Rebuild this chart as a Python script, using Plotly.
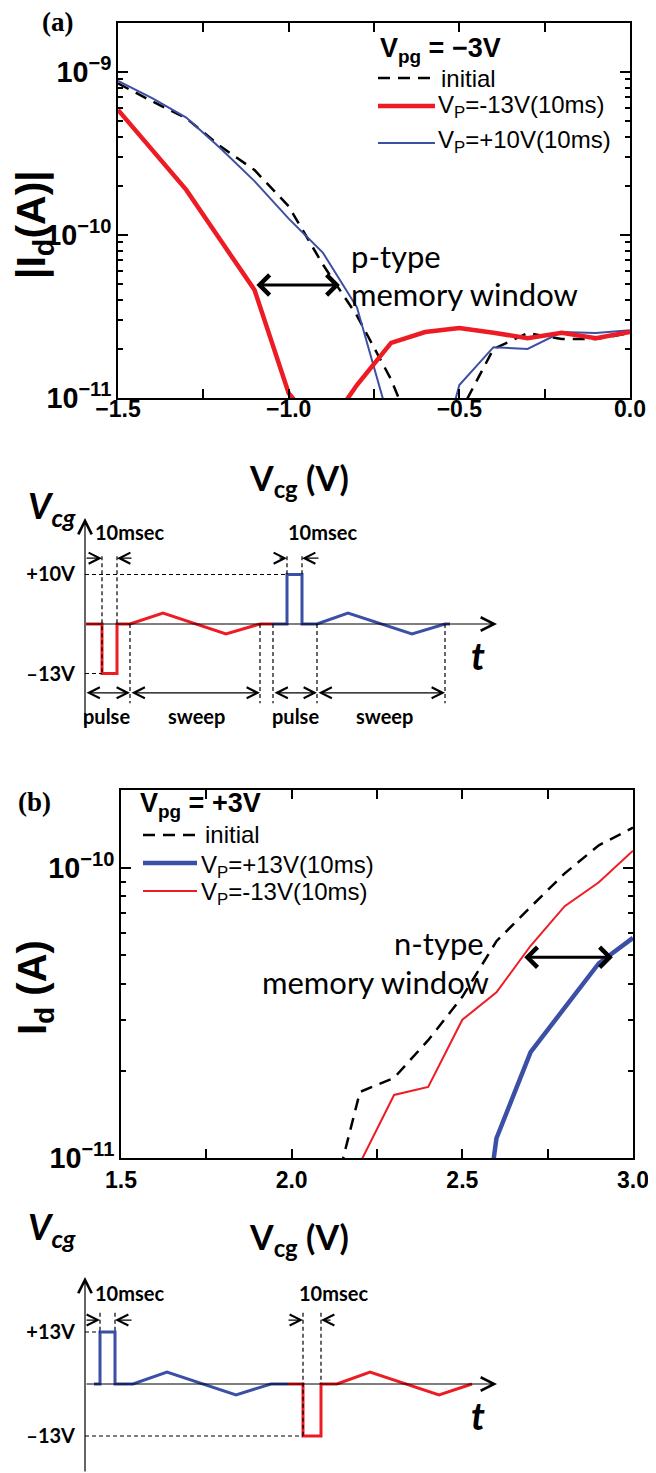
import math
import plotly.graph_objects as go

# page body has an 8px default margin: the figure is sized so that it ends at the window edge
OFF = 8
W, H = 656 - OFF, 1473 - OFF


def px(x):
    return (x - OFF) / W


def py(y):
    return 1 - (y - OFF) / H


RED = "#ED1C24"
BLUE = "#3B4FA6"
BLACK = "#000000"

# ---------------- data: panel (a), V_pg = -3V ----------------
vcg_a = [-1.5, -1.4, -1.3, -1.2, -1.1, -1.0, -0.9, -0.8, -0.7, -0.6, -0.5, -0.4, -0.3, -0.2, -0.1, 0.0]
id_a_initial = [8.5e-10, 6.6e-10, 5.2e-10, 3.5e-10, 2.5e-10, 1.5e-10, 6.6e-11, 3.2e-11, 1.3e-11,
                4e-12, 8e-12, 2.0e-11, 2.5e-11, 2.3e-11, 2.3e-11, 2.5e-11]
id_a_vp_m13 = [5.85e-10, 3.3e-10, 1.89e-10, 9.3e-11, 4.6e-11, 1.07e-11, 6e-12, 1.2e-11, 2.18e-11,
               2.54e-11, 2.69e-11, 2.51e-11, 2.33e-11, 2.51e-11, 2.33e-11, 2.54e-11]
id_a_vp_p10 = [8.8e-10, 6.9e-10, 5.25e-10, 3.4e-10, 2.14e-10, 1.26e-10, 7.8e-11, 3.6e-11, 6.6e-12,
               2e-12, 1.2e-11, 2.05e-11, 2.0e-11, 2.54e-11, 2.5e-11, 2.6e-11]

# ---------------- data: panel (b), V_pg = +3V ----------------
vcg_b_initial = [2.1, 2.2, 2.3, 2.4, 2.5, 2.6, 2.7, 2.8, 2.9, 3.0]
id_b_initial = [5.8e-12, 1.69e-11, 1.89e-11, 2.55e-11, 3.6e-11, 5.6e-11, 7.35e-11, 9.6e-11, 1.2e-10, 1.38e-10]
vcg_b_vp_m13 = [2.2, 2.3, 2.4, 2.5, 2.6, 2.7, 2.8, 2.9, 3.0]
id_b_vp_m13 = [9.6e-12, 1.65e-11, 1.76e-11, 3.0e-11, 3.73e-11, 5.4e-11, 7.4e-11, 8.95e-11, 1.15e-10]
vcg_b_vp_p13 = [2.5, 2.6, 2.7, 2.8, 2.9, 3.0]
id_b_vp_p13 = [1.6e-12, 1.17e-11, 2.32e-11, 3.3e-11, 4.7e-11, 5.75e-11]

# memory-window arrows (Vcg start, Vcg end, Id level)
mw_a = (-1.099, -0.85, 4.93e-11)
mw_b = (2.677, 2.941, 4.93e-11)

# ---------------- schematic pulse waveforms (time in arb. units, level in pulse units) ----------------
t_pa_red = [0.1, 1.7, 1.7, 3.2, 3.2, 4.5, 7.8, 14.1, 17.5, 18.8]
v_pa_red = [0, 0, -1, -1, 0, 0, 0.22, -0.2, 0, 0]
t_pa_blue = [18.8, 20.2, 20.2, 21.7, 21.7, 23.2, 26.3, 32.7, 36.0, 36.5]
v_pa_blue = [0, 0, 1, 1, 0, 0, 0.22, -0.2, 0, 0]
pa_levels = [1, -1]
pa_level_text = ["+10V", "\u201313V"]

t_pb_blue = [0.9, 1.5, 1.5, 3.0, 3.0, 4.8, 8.2, 15.1, 18.6, 20.3]
v_pb_blue = [0, 0, 1, 1, 0, 0, 0.23, -0.21, 0, 0]
t_pb_red = [20.3, 21.8, 21.8, 23.6, 23.6, 25.2, 28.5, 35.4, 38.7]
v_pb_red = [0, 0, -1, -1, 0, 0, 0.23, -0.21, 0]
pb_levels = [1, -1]
pb_level_text = ["+13V", "\u201313V"]

fig = go.Figure()

DASH = "12px,8px"

# panel (a)
fig.add_trace(go.Scatter(x=vcg_a, y=id_a_initial, mode="lines", name="initial",
                         line=dict(color=BLACK, width=2.5, dash=DASH), xaxis="x", yaxis="y"))
fig.add_trace(go.Scatter(x=vcg_a, y=id_a_vp_p10, mode="lines", name="VP=+10V(10ms)",
                         line=dict(color=BLUE, width=2), xaxis="x", yaxis="y"))
fig.add_trace(go.Scatter(x=vcg_a, y=id_a_vp_m13, mode="lines", name="VP=-13V(10ms)",
                         line=dict(color=RED, width=4.5), xaxis="x", yaxis="y"))
# tick-label carrier for panel (a) x axis
fig.add_trace(go.Scatter(x=[], y=[], xaxis="x5", yaxis="y", hoverinfo="skip"))
# panel (b)
fig.add_trace(go.Scatter(x=vcg_b_initial, y=id_b_initial, mode="lines", name="initial",
                         line=dict(color=BLACK, width=2.5, dash=DASH), xaxis="x2", yaxis="y2"))
fig.add_trace(go.Scatter(x=vcg_b_vp_m13, y=id_b_vp_m13, mode="lines", name="VP=-13V(10ms)",
                         line=dict(color=RED, width=2), xaxis="x2", yaxis="y2"))
fig.add_trace(go.Scatter(x=vcg_b_vp_p13, y=id_b_vp_p13, mode="lines", name="VP=+13V(10ms)",
                         line=dict(color=BLUE, width=4.5), xaxis="x2", yaxis="y2"))
# pulse schematics
fig.add_trace(go.Scatter(x=t_pa_red, y=v_pa_red, mode="lines", line=dict(color=RED, width=3),
                         xaxis="x3", yaxis="y3", cliponaxis=False))
fig.add_trace(go.Scatter(x=t_pa_blue, y=v_pa_blue, mode="lines", line=dict(color=BLUE, width=3),
                         xaxis="x3", yaxis="y3", cliponaxis=False))
fig.add_trace(go.Scatter(x=t_pb_blue, y=v_pb_blue, mode="lines", line=dict(color=BLUE, width=3),
                         xaxis="x4", yaxis="y4", cliponaxis=False))
fig.add_trace(go.Scatter(x=t_pb_red, y=v_pb_red, mode="lines", line=dict(color=RED, width=3),
                         xaxis="x4", yaxis="y4", cliponaxis=False))

TICKFONT = dict(family="Liberation Sans, Arial", size=23, color=BLACK, weight="bold")


def main_xaxis(dom, rng, anchor, labels=True):
    return dict(domain=dom, range=rng, anchor=anchor, automargin=False, showline=True, linewidth=2,
                linecolor=BLACK, mirror="ticks", ticks="inside", ticklen=9, tickwidth=2, tickcolor=BLACK,
                dtick=0.5, tickformat=".1f", tickfont=TICKFONT, showgrid=False, zeroline=False,
                showticklabels=labels,
                minor=dict(ticks="inside", dtick=0.25, ticklen=9, tickwidth=2, tickcolor=BLACK, showgrid=False))


def main_yaxis(dom, rng, anchor):
    return dict(domain=dom, range=rng, anchor=anchor, automargin=False, type="log", showline=True,
                linewidth=2, linecolor=BLACK, mirror="ticks", ticks="inside", ticklen=10, tickwidth=2,
                tickcolor=BLACK, dtick=1, exponentformat="power", tickfont=TICKFONT, showgrid=False,
                zeroline=False,
                minor=dict(ticks="inside", dtick="D1", ticklen=5, tickwidth=1.5, tickcolor=BLACK,
                           showgrid=False))


hidden = dict(showgrid=False, zeroline=False, showline=False, ticks="", showticklabels=False, automargin=False)
pulse_y = dict(showgrid=False, zeroline=False, showline=False, ticks="", showticklabels=True, automargin=False,
               ticklabelstandoff=9, tickfont=dict(family="Lato", size=20, color=BLACK, weight="bold"))

fig.update_layout(
    template="none",
    width=W, height=H, margin=dict(l=0, r=0, t=0, b=0, pad=0, autoexpand=False),
    paper_bgcolor="white", plot_bgcolor="white", showlegend=False,
    xaxis=main_xaxis([px(118), px(630)], [-1.5, 0.0], "y", labels=False),
    xaxis5=dict(overlaying="x", anchor="free", position=py(393), side="bottom", range=[-1.5, 0.0],
                dtick=0.5, tickformat=".1f", tickfont=TICKFONT, showline=False, ticks="",
                showgrid=False, zeroline=False, automargin=False),
    yaxis=main_yaxis([py(398), py(23)], [-11, -8.70], "x"),
    xaxis2=main_xaxis([px(121), px(633)], [1.5, 3.0], "y2"),
    yaxis2=main_yaxis([py(1158), py(790)], [-11, -9.73], "x2"),
    xaxis3=dict(domain=[px(85), px(497)], range=[0, 41.2], anchor="y3", **hidden),
    yaxis3=dict(domain=[py(740), py(518)], range=[-2.343, 2.141], anchor="x3",
                tickvals=pa_levels, ticktext=pa_level_text, **pulse_y),
    xaxis4=dict(domain=[px(85), px(497)], range=[0, 41.2], anchor="y4", **hidden),
    yaxis4=dict(domain=[py(1473), py(1260)], range=[-1.712, 2.385], anchor="x4",
                tickvals=pb_levels, ticktext=pb_level_text, **pulse_y),
)

ann = []
shapes = []


def text(x, y, s, size, family="Lato", xanchor="center", yanchor="middle", angle=0):
    ann.append(dict(x=px(x), y=py(y), xref="paper", yref="paper", text=s, showarrow=False,
                    xanchor=xanchor, yanchor=yanchor, textangle=angle,
                    font=dict(family=family, size=size, color=BLACK)))


def arrow(xr, yr, x0, y0, x1, y1, head=5, size=1.8, width=1.2, both=False):
    d = dict(x=x1, y=y1, ax=x0, ay=y0, xref=xr, yref=yr, axref=xr, ayref=yr, text="",
             showarrow=True, arrowhead=head, arrowsize=size, arrowwidth=width, arrowcolor=BLACK,
             standoff=0, startstandoff=0)
    if both:
        d.update(arrowside="end+start", startarrowhead=head, startarrowsize=size)
    ann.append(d)


def dline(xr, yr, x0, y0, x1, y1):
    shapes.append(dict(type="line", xref=xr, yref=yr, x0=x0, y0=y0, x1=x1, y1=y1,
                       line=dict(color=BLACK, width=1.2, dash="4px,3px")))


def legline(x0, x1, y, color, width, dash=None):
    shapes.append(dict(type="line", xref="paper", yref="paper", x0=px(x0), x1=px(x1), y0=py(y), y1=py(y),
                       line=dict(color=color, width=width, dash=dash)))


# panel labels
text(57, 22, "<b>(a)</b>", 27, family="Liberation Serif")
text(34, 802, "<b>(b)</b>", 27, family="Liberation Serif")

# axis titles
text(34, 225, "<b>|I<sub>d</sub>(A)|</b>", 41, family="Liberation Sans", angle=-90)
text(35, 988, "<b>I<sub>d</sub> (A)</b>", 40, family="Liberation Sans", angle=-90)
text(299, 480, "<b>V<sub>cg</sub> (V)</b>", 34)
text(299, 1239, "<b>V<sub>cg</sub> (V)</b>", 34)

# legend (a)
text(378, 50, "<b>V<sub>pg</sub> = \u22123V</b>", 27, family="Liberation Sans", xanchor="left")
legline(378, 435, 78, BLACK, 2.5, DASH)
legline(378, 435, 106, RED, 4.5)
legline(378, 435, 143, BLUE, 2)
text(439, 78, "initial", 24, family="Liberation Sans", xanchor="left")
text(436, 107, "V<sub>P</sub>=-13V(10ms)", 24, family="Liberation Sans", xanchor="left")
text(436, 142, "V<sub>P</sub>=+10V(10ms)", 24, family="Liberation Sans", xanchor="left")

# legend (b)
text(138, 805, "<b>V<sub>pg</sub> = +3V</b>", 27, family="Liberation Sans", xanchor="left")
legline(143, 197, 835, BLACK, 2.5, DASH)
legline(143, 197, 863, BLUE, 4.5)
legline(143, 197, 891, RED, 2)
text(203, 834, "initial", 24, family="Liberation Sans", xanchor="left")
text(199, 866, "V<sub>P</sub>=+13V(10ms)", 24, family="Liberation Sans", xanchor="left")
text(199, 894, "V<sub>P</sub>=-13V(10ms)", 24, family="Liberation Sans", xanchor="left")

# memory window annotations
text(349, 256, "p-type", 31, xanchor="left")
text(349, 294, "memory window", 31, xanchor="left")
text(392, 943, "n-type", 31, xanchor="left")
text(260, 982, "memory window", 31, xanchor="left")
arrow("x", "y", mw_a[0], math.log10(mw_a[2]), mw_a[1], math.log10(mw_a[2]), head=4, size=1.3, width=3,
      both=True)
arrow("x2", "y2", mw_b[0], math.log10(mw_b[2]), mw_b[1], math.log10(mw_b[2]), head=4, size=1.3, width=3,
      both=True)

# ---- pulse schematic (a) ----
text(52, 508, "<b><i>V<sub>cg</sub></i></b>", 36)
text(478, 655, "<b><i>t</i></b>", 38)
arrow("x3", "y3", 0, -2.08, 0, 2.141, size=2.2, width=1.2)
arrow("x3", "y3", 0, 0, 41.2, 0, size=2.2, width=1.2)
for (x0, y0, x1, y1) in [(0, 1, 20.2, 1), (0, -1, 1.7, -1), (1.7, 1.37, 1.7, -1), (3.2, 1.37, 3.2, 0),
                         (4.5, 0, 4.5, -1.6), (17.5, 0, 17.5, -1.6), (18.8, 0, 18.8, -1.6),
                         (20.2, 1.37, 20.2, 1), (21.7, 1.37, 21.7, 1), (23.2, 0, 23.2, -1.6),
                         (36.0, 0, 36.0, -1.6)]:
    dline("x3", "y3", x0, y0, x1, y1)
arrow("x3", "y3", 0, 1.33, 1.7, 1.33)
arrow("x3", "y3", 4.8, 1.33, 3.2, 1.33)
arrow("x3", "y3", 19.3, 1.33, 20.2, 1.33)
arrow("x3", "y3", 23.5, 1.33, 21.7, 1.33)
for (x0, x1) in [(0, 4.5), (4.5, 17.5), (18.8, 23.2), (23.2, 36.0)]:
    arrow("x3", "y3", x0, -1.39, x1, -1.39, both=True)
text(129, 532, "<b>10msec</b>", 20)
text(322, 532, "<b>10msec</b>", 20)
for (xc, lab) in [(106, "pulse"), (196, "sweep"), (295, "pulse"), (384, "sweep")]:
    text(xc, 716, "<b>%s</b>" % lab, 20)

# ---- pulse schematic (b) ----
text(52, 1228, "<b><i>V<sub>cg</sub></i></b>", 36)
text(478, 1415, "<b><i>t</i></b>", 38)
arrow("x4", "y4", 0, -1.712, 0, 2.06, size=2.2, width=1.2)
arrow("x4", "y4", 0, 0, 41.2, 0, size=2.2, width=1.2)
for (x0, y0, x1, y1) in [(0, 1, 1.5, 1), (0, -1, 21.8, -1), (1.5, 1.37, 1.5, 1), (3.0, 1.37, 3.0, 1),
                         (21.8, 1.37, 21.8, -1), (23.6, 1.37, 23.6, 0)]:
    dline("x4", "y4", x0, y0, x1, y1)
arrow("x4", "y4", 0, 1.23, 1.5, 1.23)
arrow("x4", "y4", 4.8, 1.23, 3.0, 1.23)
arrow("x4", "y4", 20.2, 1.23, 21.8, 1.23)
arrow("x4", "y4", 24.7, 1.23, 23.6, 1.23)
text(129, 1293, "<b>10msec</b>", 20)
text(333, 1293, "<b>10msec</b>", 20)

fig.update_layout(annotations=ann, shapes=shapes)

fig.write_html("out.html")
